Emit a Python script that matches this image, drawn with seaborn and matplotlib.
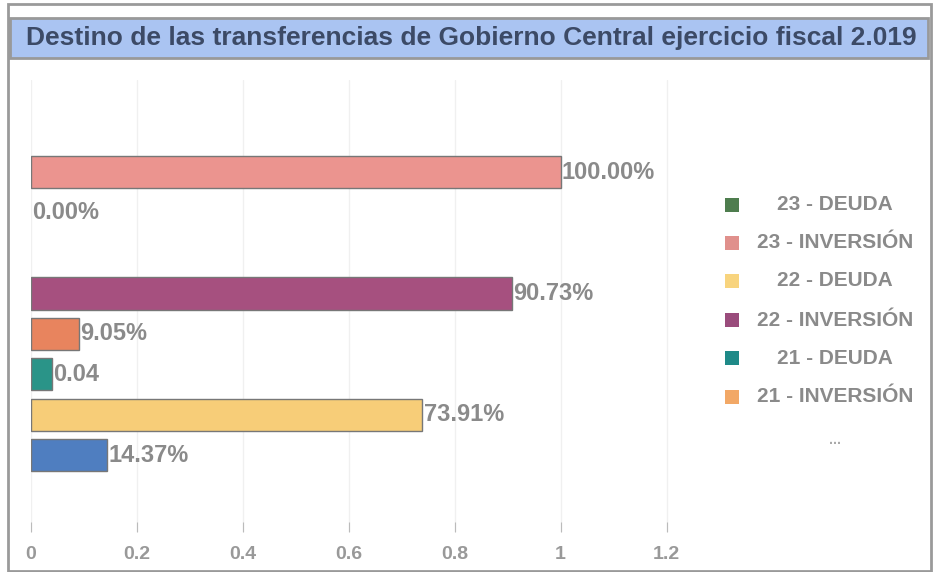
import matplotlib
matplotlib.use("Agg")
import matplotlib.pyplot as plt
import seaborn as sns
import pandas as pd
from matplotlib.patches import Rectangle

# filas del eje (una vacia entre el primer y segundo bloque)
filas = ["23 - INVERSIÓN", "23 - DEUDA", "vacio", "22 - INVERSIÓN",
         "21 - INVERSIÓN", "21 - DEUDA", "22 - DEUDA", "otros"]
barras = ["23 - INVERSIÓN", "23 - DEUDA", "22 - INVERSIÓN",
          "21 - INVERSIÓN", "21 - DEUDA", "22 - DEUDA", "otros"]
valores = [1.0, 0.0, 0.9073, 0.0905, 0.04, 0.7391, 0.1437]
etiquetas = ["100.00%", "0.00%", "90.73%", "9.05%", "0.04", "73.91%", "14.37%"]
colores = ["#eb948f", "#4e7d4e", "#a6507f", "#e8845e", "#2a9488", "#f7cd78", "#4f7ec0"]

leyenda = ["23 - DEUDA", "23 - INVERSIÓN", "22 - DEUDA",
           "22 - INVERSIÓN", "21 - DEUDA", "21 - INVERSIÓN"]
colores_leyenda = ["#4e7d4e", "#e0908c", "#f8d47e", "#9a4c7c", "#1f8a88", "#f2a866"]

ticks_x = [0, 0.2, 0.4, 0.6, 0.8, 1, 1.2]
ticks_txt = ["0", "0.2", "0.4", "0.6", "0.8", "1", "1.2"]

titulo = "Destino de las transferencias de Gobierno Central ejercicio fiscal 2.019"

sns.set_style("white")
plt.rcParams["font.family"] = ["Liberation Sans", "DejaVu Sans"]

df = pd.DataFrame({"fila": barras, "valor": valores})
paleta = dict(zip(barras, colores))

W, H = 940, 572
fig = plt.figure(figsize=(W / 100, H / 100), dpi=100)
ax = fig.add_axes([31 / W, 1 - 532 / H, 662 / W, 452 / H])

sns.barplot(data=df, x="valor", y="fila", hue="fila", order=filas,
            palette=paleta, dodge=False, width=0.8, legend=False, ax=ax,
            saturation=1, edgecolor="#777777", linewidth=1)

# sin borde en la barra de valor cero
for p in ax.patches:
    if p.get_width() == 0:
        p.set_linewidth(0)

# etiquetas al final de cada barra
for i, fila in enumerate(barras):
    ax.annotate(etiquetas[i], xy=(valores[i], filas.index(fila)),
                xytext=(1, 0), textcoords="offset points",
                ha="left", va="center", fontsize=17, fontweight="bold",
                color="#8a8a8a")

ax.set_xlim(0, 1.25)
ax.set_ylim(8.9, -2.28)
ax.set_xticks(ticks_x)
ax.set_xticklabels(ticks_txt)
ax.set_yticks([])
ax.set_xlabel("")
ax.set_ylabel("")
ax.xaxis.grid(True, color="#f0f0f0", linewidth=1)
ax.tick_params(axis="x", direction="in", length=7, color="#bbbbbb",
               labelsize=14, labelcolor="#999999", pad=10, bottom=True)
for lbl in ax.get_xticklabels():
    lbl.set_fontweight("bold")
sns.despine(ax=ax, left=True, bottom=True)

# marco y banda del titulo
fig.patches.append(Rectangle((8 / W, 1 - 571 / H), 923 / W, 567 / H,
                             transform=fig.transFigure, fill=False,
                             edgecolor="#9a9a9a", linewidth=2))
fig.patches.append(Rectangle((10 / W, 1 - 58 / H), 918 / W, 40 / H,
                             transform=fig.transFigure, facecolor="#aac4f2",
                             edgecolor="#999999", linewidth=2))
fig.text(471 / W, 1 - 38 / H, titulo, ha="center", va="center",
         fontsize=19, fontweight="bold", color="#3c4a66")

# leyenda
y_ley = [205, 243, 281, 320, 358, 397]
for txt, col, yy in zip(leyenda, colores_leyenda, y_ley):
    fig.patches.append(Rectangle((725 / W, 1 - (yy + 7) / H), 14 / W, 14 / H,
                                 transform=fig.transFigure, facecolor=col,
                                 edgecolor="none"))
    fig.text(835 / W, 1 - yy / H, txt, ha="center", va="center",
             fontsize=15, fontweight="bold", color="#8a8a8a")
fig.text(835 / W, 1 - 440 / H, "...", ha="center", va="center",
         fontsize=10, fontweight="bold", color="#aaaaaa")

fig.savefig("out.png", dpi=100)
